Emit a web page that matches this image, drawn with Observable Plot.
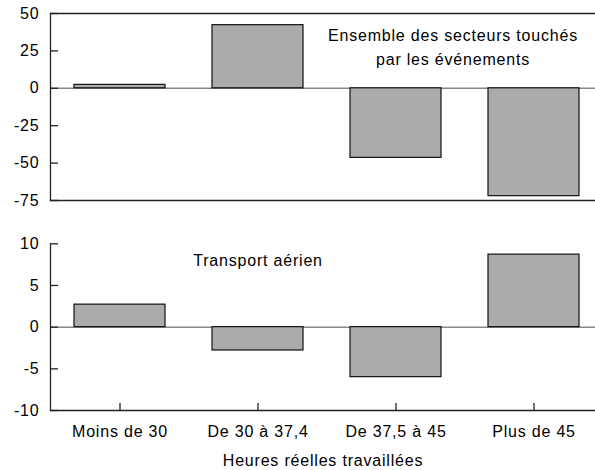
<!DOCTYPE html>
<html>
<head>
<meta charset="utf-8">
<script src="https://cdn.jsdelivr.net/npm/d3@7"></script>
<script src="https://cdn.jsdelivr.net/npm/@observablehq/plot@0.6"></script>
<style>
  html, body { margin: 0; padding: 0; background: #fff; }
  svg { display: block; }
</style>
</head>
<body>
<div id="chart"></div>
<script>
const categories = ["Moins de 30", "De 30 à 37,4", "De 37,5 à 45", "Plus de 45"];
const valuesAll = [2.3, 42.2, -46.5, -72.1];
const valuesAir = [2.7, -2.8, -6.0, 8.7];
const ticksTop = [50, 25, 0, -25, -50, -75];
const ticksBottom = [10, 5, 0, -5, -10];
const labelTop = "Ensemble des secteurs touchés\npar les événements";
const labelBottom = "Transport aérien";
const xTitle = "Heures réelles travaillées";

const dataTop = categories.map((c, i) => ({cat: c, v: valuesAll[i]}));
const dataBottom = categories.map((c, i) => ({cat: c, v: valuesAir[i]}));

const font = "'Liberation Sans', Arial, Helvetica, sans-serif";
const style = {fontFamily: font, fontSize: "16px", letterSpacing: "0.8px", background: "white", color: "#000", overflow: "visible"};
const axisColor = "#222";
const xScale = {type: "band", domain: categories, range: [50.5, 603], paddingInner: 0.34, paddingOuter: 0.17, axis: null};

const plotTop = Plot.plot({
  width: 595, height: 215,
  marginLeft: 50, marginRight: 0, marginTop: 13, marginBottom: 15,
  style,
  x: xScale,
  y: {domain: [-75, 50], axis: null},
  marks: [
    Plot.ruleY([0], {stroke: "#888", strokeWidth: 1.5}),
    Plot.barY(dataTop, {x: "cat", y: "v", fill: "#ababab", stroke: "#111", strokeWidth: 1.2}),
    Plot.frame({anchor: "top", stroke: axisColor, strokeWidth: 1.3}),
    Plot.frame({anchor: "bottom", stroke: axisColor, strokeWidth: 1.3}),
    Plot.frame({anchor: "left", stroke: axisColor, strokeWidth: 1.3}),
    Plot.axisY({ticks: ticksTop, label: null, tickSize: 8, dx: 8, tickFormat: () => "", stroke: axisColor, strokeWidth: 1.3}),
    Plot.axisY({ticks: ticksTop, label: null, tickSize: 0, tickPadding: 11, fontSize: 16, tickFormat: d => String(d)}),
    Plot.text([labelTop], {x: () => categories[2], y: () => 28.6, text: d => d, dx: 57, fontSize: 16, lineHeight: 1.45, textAnchor: "middle"})
  ]
});

const plotBottom = Plot.plot({
  width: 595, height: 255,
  marginLeft: 50, marginRight: 0, marginTop: 28.3, marginBottom: 60,
  style,
  x: xScale,
  y: {domain: [-10, 10], axis: null},
  marks: [
    Plot.ruleY([0], {stroke: "#888", strokeWidth: 1.5}),
    Plot.barY(dataBottom, {x: "cat", y: "v", fill: "#ababab", stroke: "#111", strokeWidth: 1.2}),
    Plot.frame({anchor: "bottom", stroke: axisColor, strokeWidth: 1.3}),
    Plot.frame({anchor: "left", stroke: axisColor, strokeWidth: 1.3}),
    Plot.axisY({ticks: ticksBottom, label: null, tickSize: 8, dx: 8, tickFormat: () => "", stroke: axisColor, strokeWidth: 1.3}),
    Plot.axisY({ticks: ticksBottom, label: null, tickSize: 0, tickPadding: 11, fontSize: 16, tickFormat: d => String(d)}),
    Plot.axisX({label: null, tickSize: 7, dy: -7, tickFormat: () => "", stroke: axisColor, strokeWidth: 1.3}),
    Plot.axisX({label: null, tickSize: 0, tickPadding: 15, fontSize: 16}),
    Plot.text([labelBottom], {x: () => categories[1], y: () => 8, text: d => d, fontSize: 16, textAnchor: "middle"}),
    Plot.text([xTitle], {frameAnchor: "bottom", dy: 55, text: d => d, fontSize: 16, textAnchor: "middle"})
  ]
});

const el = document.getElementById("chart");
el.append(plotTop, plotBottom);
</script>
</body>
</html>
